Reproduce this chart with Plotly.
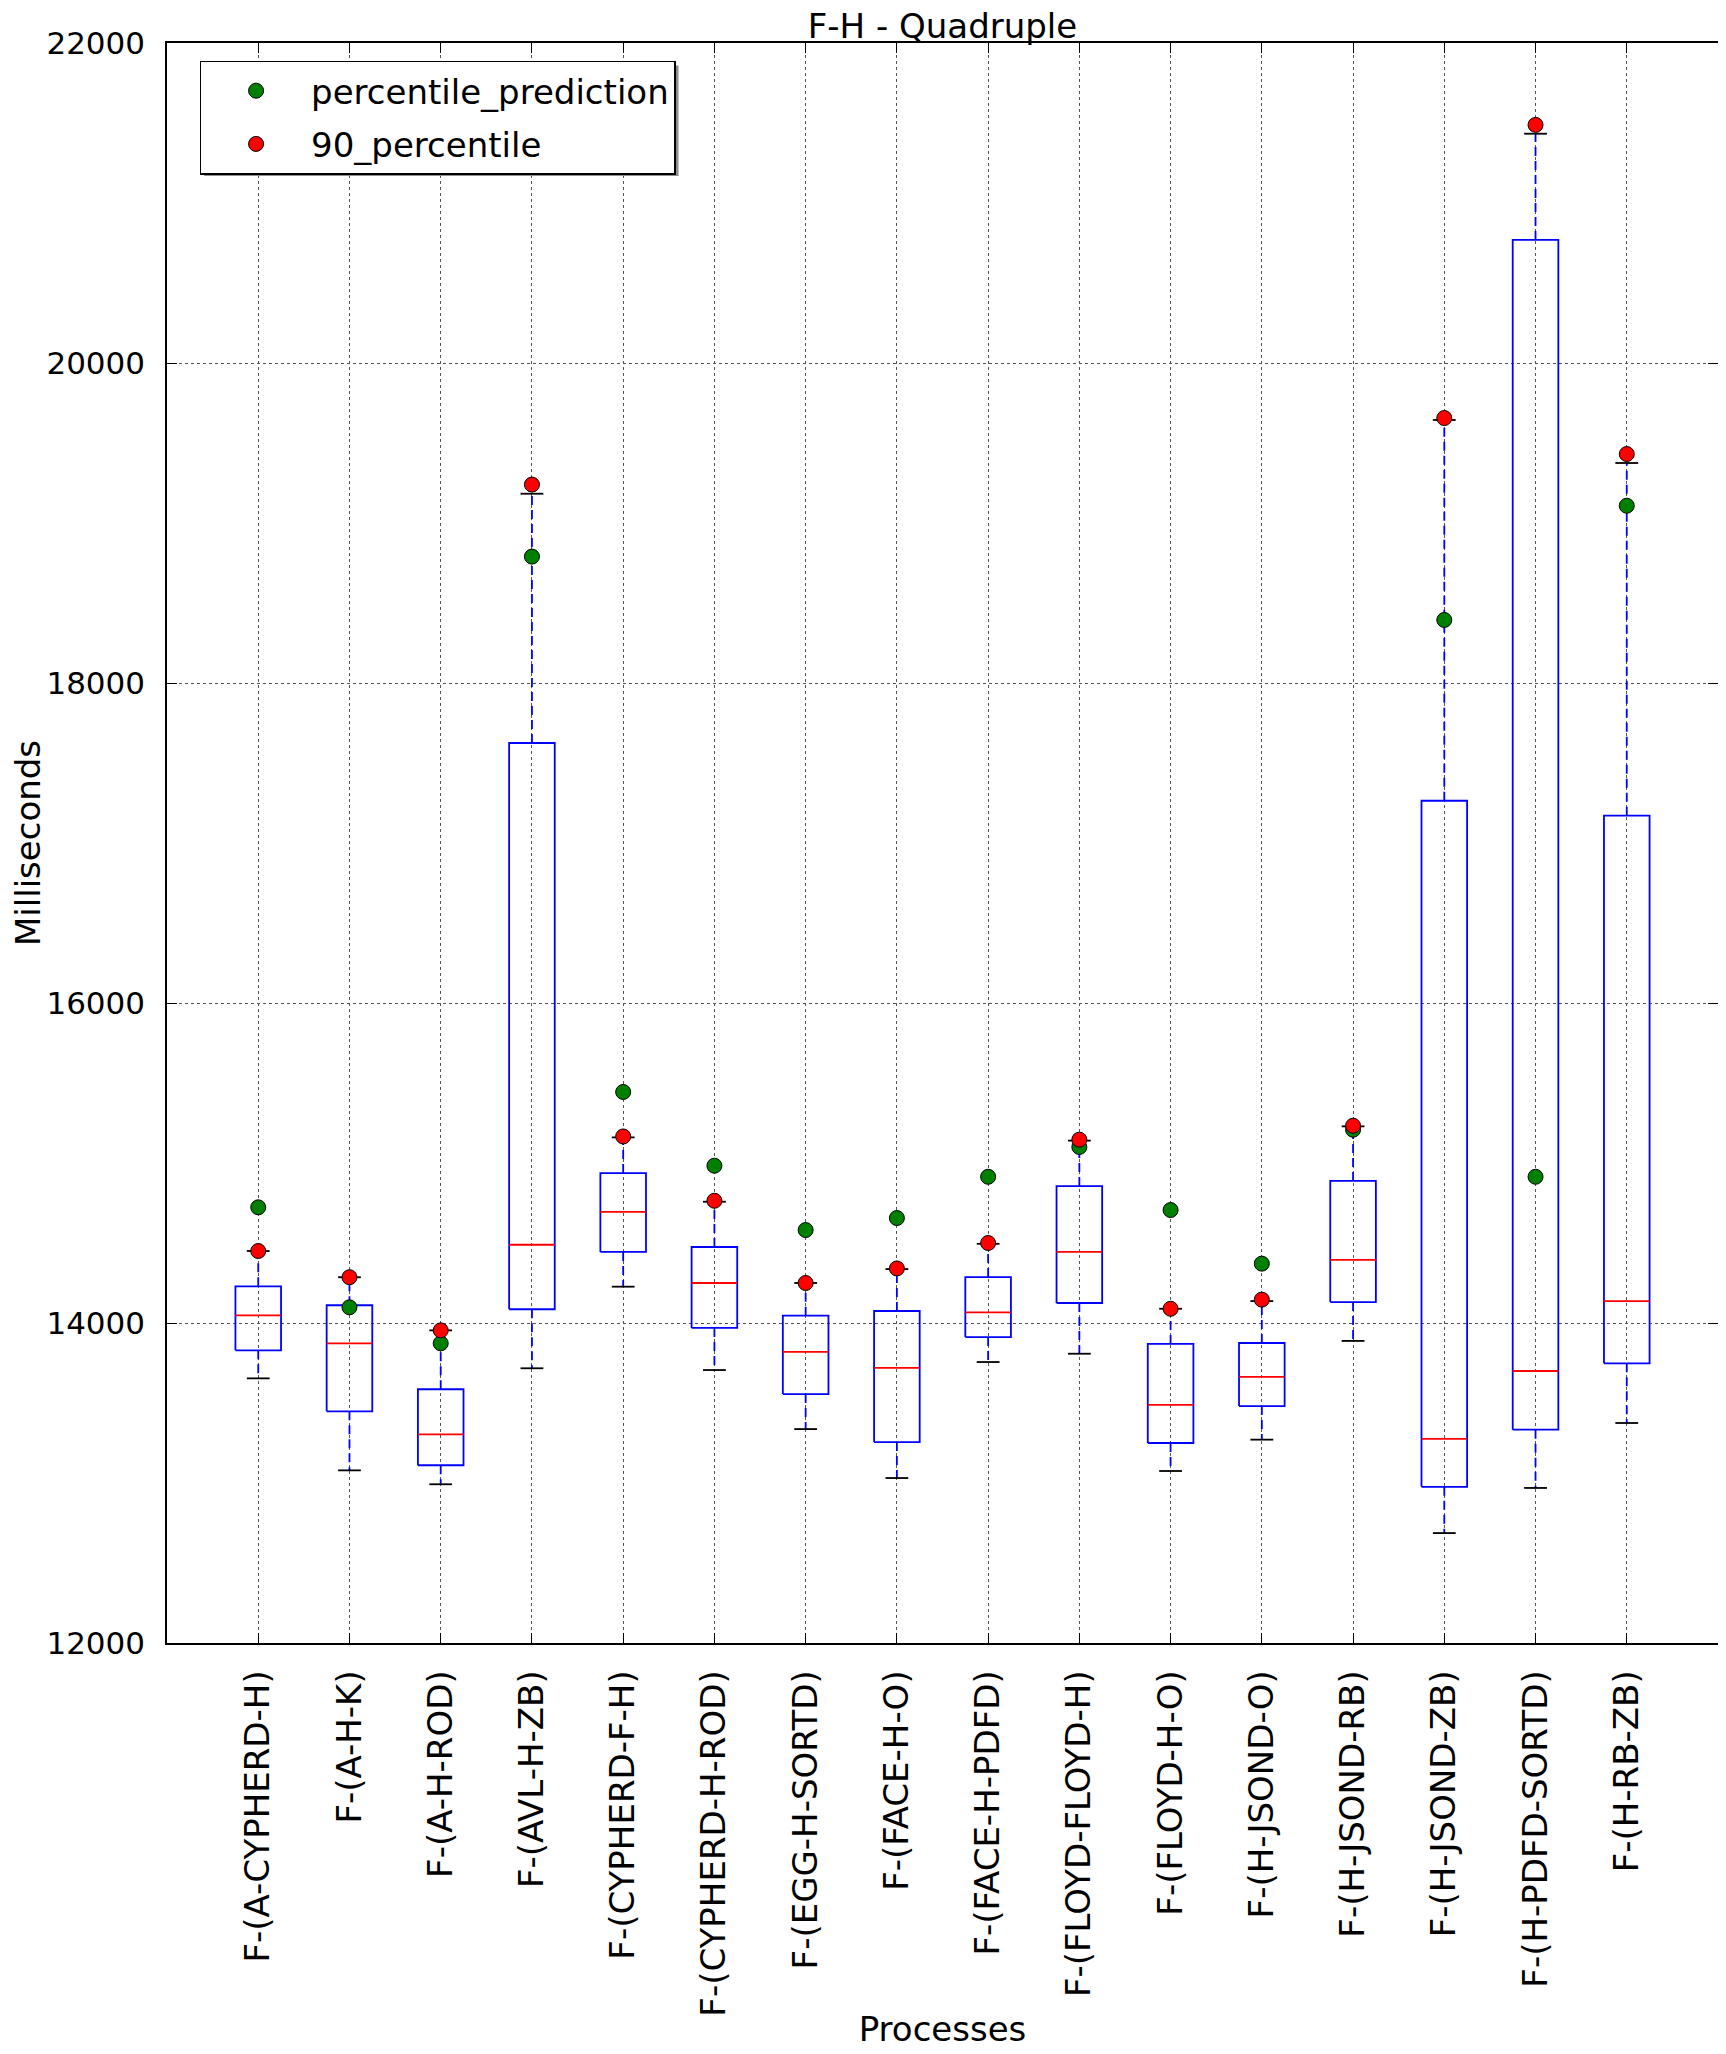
import plotly.graph_objects as go

# ---------------- data ----------------
categories = [
    "F-(A-CYPHERD-H)", "F-(A-H-K)", "F-(A-H-ROD)", "F-(AVL-H-ZB)",
    "F-(CYPHERD-F-H)", "F-(CYPHERD-H-ROD)", "F-(EGG-H-SORTD)", "F-(FACE-H-O)",
    "F-(FACE-H-PDFD)", "F-(FLOYD-FLOYD-H)", "F-(FLOYD-H-O)", "F-(H-JSOND-O)",
    "F-(H-JSOND-RB)", "F-(H-JSOND-ZB)", "F-(H-PDFD-SORTD)", "F-(H-RB-ZB)",
]
whisker_low = [13654, 13079, 12992, 13717, 14227, 13706, 13337, 13031,
               13756, 13808, 13075, 13271, 13888, 12687, 12969, 13375]
q1 = [13829, 13448, 13111, 14086, 14444, 13969, 13556, 13256,
      13912, 14125, 13250, 13481, 14131, 12976, 13333, 13748]
median = [14048, 13873, 13304, 14489, 14694, 14250, 13819, 13719,
          14066, 14444, 13488, 13663, 14394, 13276, 13700, 14137]
q3 = [14229, 14111, 13586, 17625, 14937, 14475, 14046, 14075,
      14287, 14856, 13869, 13875, 14888, 17264, 20769, 17171]
whisker_high = [14450, 14286, 13954, 19183, 15160, 14758, 14250, 14337,
                14495, 15140, 14089, 14137, 15229, 19644, 21433, 19375]
percentile_prediction = [14723, 14098, 13873, 18790, 15444, 14983, 14581, 14656,
                         14914, 15100, 14706, 14371, 15208, 18394, 14914, 19108]
percentile_90 = [14450, 14286, 13954, 19240, 15166, 14764, 14250, 14341,
                 14500, 15146, 14089, 14146, 15233, 19656, 21488, 19431]
y_ticks = [12000, 14000, 16000, 18000, 20000, 22000]

positions = list(range(1, len(categories) + 1))
BOX_HALF = 0.25
CAP_HALF = 0.125
FONT = "DejaVu Sans"
LW = 1.8

# ---------------- build box-plot geometry from data ----------------
box_x, box_y = [], []
med_x, med_y = [], []
wh_x, wh_y = [], []
cap_x, cap_y = [], []
for p, lo, a, m, b, hi in zip(positions, whisker_low, q1, median, q3, whisker_high):
    box_x += [p - BOX_HALF, p + BOX_HALF, p + BOX_HALF, p - BOX_HALF, p - BOX_HALF, None]
    box_y += [a, a, b, b, a, None]
    med_x += [p - BOX_HALF, p + BOX_HALF, None]
    med_y += [m, m, None]
    wh_x += [p, p, None, p, p, None]
    wh_y += [a, lo, None, b, hi, None]
    cap_x += [p - CAP_HALF, p + CAP_HALF, None, p - CAP_HALF, p + CAP_HALF, None]
    cap_y += [lo, lo, None, hi, hi, None]

fig = go.Figure()
fig.add_trace(go.Scatter(x=wh_x, y=wh_y, mode="lines", showlegend=False, hoverinfo="skip",
                         line=dict(color="#0000ff", width=LW, dash="9px,5px")))
fig.add_trace(go.Scatter(x=cap_x, y=cap_y, mode="lines", showlegend=False, hoverinfo="skip",
                         line=dict(color="#000000", width=LW)))
fig.add_trace(go.Scatter(x=box_x, y=box_y, mode="lines", showlegend=False, hoverinfo="skip",
                         line=dict(color="#0000ff", width=LW)))
fig.add_trace(go.Scatter(x=med_x, y=med_y, mode="lines", showlegend=False, hoverinfo="skip",
                         line=dict(color="#ff0000", width=LW)))
fig.add_trace(go.Scatter(x=positions, y=percentile_prediction, mode="markers",
                         name="percentile_prediction", legendgroup="pred",
                         marker=dict(color="#008000", size=15, line=dict(color="#000000", width=1))))
fig.add_trace(go.Scatter(x=positions, y=percentile_90, mode="markers",
                         name="90_percentile", legendgroup="p90",
                         marker=dict(color="#ff0000", size=15, line=dict(color="#000000", width=1))))

# soft drop shadow behind the legend box (matplotlib classic style)
fig.add_shape(type="rect", xref="paper", yref="paper",
              x0=0.0240, x1=0.3298, y0=0.9168, y1=0.9860,
              line=dict(width=0), fillcolor="#8c8c8c", layer="above")

fig.update_layout(
    width=1718, height=2046,
    margin=dict(l=159, r=8, t=35, b=411, autoexpand=False),
    paper_bgcolor="white", plot_bgcolor="white",
    font=dict(family=FONT, size=34, color="black"),
    title=dict(text="F-H - Quadruple", x=0.5, xref="paper", xanchor="center",
               y=1, yref="paper", yanchor="bottom", pad=dict(b=5),
               font=dict(family=FONT, size=34, color="black")),
    showlegend=True,
    legend=dict(x=0.021, y=0.989, xanchor="left", yanchor="top",
                bgcolor="white", bordercolor="black", borderwidth=1.5,
                font=dict(family=FONT, size=34, color="black"),
                itemwidth=100, tracegroupgap=6, traceorder="grouped"),
)
fig.update_xaxes(
    range=[0, len(categories) + 1],
    tickmode="array", tickvals=positions, ticktext=categories,
    tickangle=-90, tickfont=dict(family=FONT, size=34, color="black"),
    ticks="inside", ticklen=10, tickcolor="black", tickwidth=1,
    showline=True, linecolor="black", linewidth=1.5, mirror="ticks",
    showgrid=True, gridcolor="#555555", gridwidth=1, griddash="dot",
    zeroline=False, automargin=False, ticklabelstandoff=12,
    title=dict(text="Processes", standoff=2, font=dict(family=FONT, size=34, color="black")),
)
fig.update_yaxes(
    range=[12000, 22000],
    tickmode="array", tickvals=y_ticks, ticktext=[str(v) for v in y_ticks],
    tickfont=dict(family=FONT, size=31, color="black"),
    ticks="inside", ticklen=10, tickcolor="black", tickwidth=1,
    showline=True, linecolor="black", linewidth=1.5, mirror="ticks",
    showgrid=True, gridcolor="#555555", gridwidth=1, griddash="dot",
    zeroline=False, automargin=False, ticklabelstandoff=14,
    title=dict(text="Milliseconds", standoff=2, font=dict(family=FONT, size=34, color="black")),
)

fig.write_html("out.html")
